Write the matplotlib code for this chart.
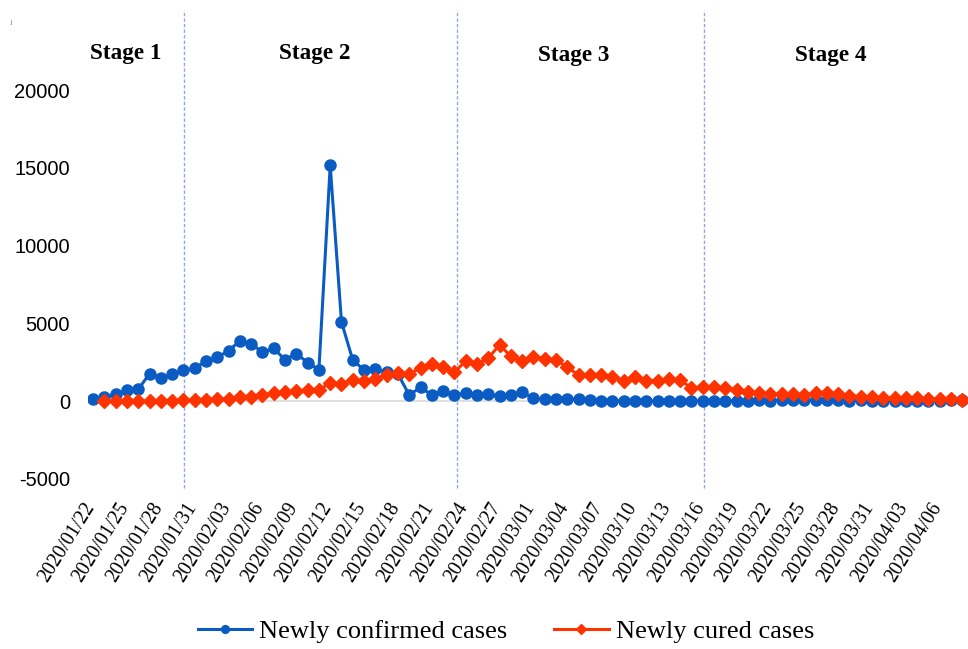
import matplotlib
matplotlib.use("Agg")
import matplotlib.pyplot as plt
import matplotlib.transforms as mtransforms
import pandas as pd
import numpy as np

# ---------------- data ----------------
dates = pd.date_range("2020-01-22", "2020-04-08", freq="D")
date_labels = [d.strftime("%Y/%m/%d") for d in dates]

newly_confirmed = [131, 259, 444, 688, 769, 1771, 1459, 1737, 1982, 2102,
                   2590, 2829, 3235, 3887, 3694, 3143, 3399, 2656, 3062, 2478,
                   2015, 15152, 5090, 2641, 2009, 2048, 1886, 1749, 394, 889,
                   397, 648, 409, 508, 406, 433, 327, 427, 573, 202,
                   125, 119, 139, 143, 99, 44, 40, 19, 24, 15,
                   8, 11, 20, 16, 21, 13, 34, 39, 41, 46,
                   39, 78, 47, 67, 55, 54, 45, 31, 48, 36,
                   35, 31, 19, 30, 39, 32, 62, 63]

newly_cured = [np.nan, 6, 3, 11, 2, 9, 43, 21, 47, 72,
               85, 147, 157, 262, 261, 387, 510, 600, 632, 716,
               744, 1171, 1081, 1373, 1323, 1425, 1701, 1824, 1779, 2109,
               2394, 2230, 1846, 2589, 2361, 2765, 3622, 2885, 2589, 2837,
               2742, 2652, 2189, 1681, 1678, 1661, 1535, 1297, 1578, 1318,
               1318, 1430, 1370, 838, 930, 922, 819, 730, 590, 504,
               459, 456, 491, 401, 537, 512, 482, 341, 300, 250,
               220, 200, 213, 180, 150, 120, 110, 100]

stage_names = ["Stage 1", "Stage 2", "Stage 3", "Stage 4"]
stage_label_x = [2.9, 19.6, 42.6, 65.3]          # in day-index units
stage_boundaries = [8.05, 32.2, 54.15]            # in day-index units

series_names = ["Newly confirmed cases", "Newly cured cases"]
y_ticks = [-5000, 0, 5000, 10000, 15000, 20000]

# ---------------- style ----------------
BLUE = "#0A5CC2"
RED = "#FF3300"
VLINE = "#8FAADC"
W, H = 968, 649

fig = plt.figure(figsize=(W / 100, H / 100), dpi=100)
ax = fig.add_axes([87.5 / W, 1 - 479 / H, (968 - 87.5) / W, 389 / H])

x = np.arange(len(dates))

ax.axhline(0, color="#D9D9D9", lw=1.2, zorder=1)
l1, = ax.plot(x, newly_confirmed, color=BLUE, lw=2.2, marker="o", ms=8,
              zorder=3, label=series_names[0])
l2, = ax.plot(x, newly_cured, color=RED, lw=2.2, marker="D", ms=6.8,
              zorder=4, label=series_names[1])

ax.set_xlim(-0.5, len(dates) - 0.5)
ax.set_ylim(y_ticks[0], y_ticks[-1])

for s in ax.spines.values():
    s.set_visible(False)

ax.set_yticks(y_ticks)
ax.set_yticklabels([str(v) for v in y_ticks], family="Liberation Sans",
                   fontsize=14.5)
ax.tick_params(axis="y", length=0, pad=12.6)

tick_idx = x[::3]
ax.set_xticks(tick_idx)
ax.set_xticklabels([date_labels[i] for i in tick_idx], rotation=58,
                   ha="right", va="top", family="Liberation Serif",
                   fontsize=14.2)
ax.tick_params(axis="x", length=0, pad=14.4)
offset = mtransforms.ScaledTranslation(6 / 100, 0, fig.dpi_scale_trans)
for lab in ax.get_xticklabels():
    lab.set_transform(lab.get_transform() + offset)

# stage boundaries
xt = ax.get_xaxis_transform()
for xb in stage_boundaries:
    ax.plot([xb, xb], [-0.023, 1.206], transform=xt, clip_on=False,
            color=VLINE, lw=1.0, ls=(0, (2.5, 1.5)), zorder=2)

stage_y = [(479 - 58.5) / 389, (479 - 58.5) / 389,
           (479 - 61) / 389, (479 - 61) / 389]
for name, sx, sy in zip(stage_names, stage_label_x, stage_y):
    ax.text(sx, sy, name, transform=xt, ha="center", va="baseline",
            family="Liberation Serif", fontweight="bold", fontsize=16.7)

fig.text(10 / W, 1 - 24 / H, "J", fontsize=4, color="#555555")

fig.legend(handles=[l1, l2], labels=series_names, loc="center",
           bbox_to_anchor=(506 / W, 1 - 631 / H), ncol=2, frameon=False,
           prop={"family": "Liberation Serif", "size": 19},
           handlelength=2.05, handletextpad=0.27, columnspacing=1.78,
           markerscale=0.7)

fig.savefig("out.png", dpi=100)
